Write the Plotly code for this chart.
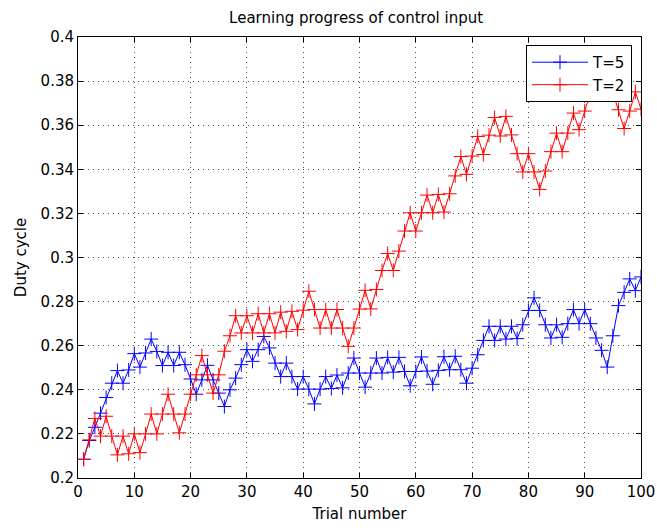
import plotly.graph_objects as go

trials = list(range(1, 101))

duty_T5 = [
    0.2085, 0.2170, 0.2230, 0.2294, 0.2365, 0.2430, 0.2487, 0.2430, 0.2490, 0.2564,
    0.2503, 0.2567, 0.2630, 0.2574, 0.2510, 0.2570, 0.2510, 0.2570, 0.2514, 0.2449,
    0.2380, 0.2445, 0.2511, 0.2445, 0.2385, 0.2324, 0.2400, 0.2453, 0.2514, 0.2582,
    0.2529, 0.2582, 0.2642, 0.2590, 0.2521, 0.2460, 0.2521, 0.2460, 0.2403, 0.2460,
    0.2403, 0.2336, 0.2403, 0.2460, 0.2406, 0.2467, 0.2409, 0.2476, 0.2544, 0.2476,
    0.2412, 0.2476, 0.2544, 0.2476, 0.2547, 0.2480, 0.2547, 0.2483, 0.2418, 0.2483,
    0.2549, 0.2485, 0.2425, 0.2488, 0.2550, 0.2491, 0.2552, 0.2491, 0.2430, 0.2498,
    0.2559, 0.2624, 0.2688, 0.2624, 0.2688, 0.2630, 0.2688, 0.2632, 0.2695, 0.2760,
    0.2817, 0.2760, 0.2695, 0.2635, 0.2695, 0.2638, 0.2700, 0.2764, 0.2700, 0.2764,
    0.2700, 0.2635, 0.2579, 0.2503, 0.2645, 0.2782, 0.2842, 0.2903, 0.2850, 0.2912,
]

duty_T2 = [
    0.2085, 0.2173, 0.2270, 0.2190, 0.2280, 0.2190, 0.2105, 0.2190, 0.2110, 0.2200,
    0.2115, 0.2200, 0.2290, 0.2200, 0.2290, 0.2380, 0.2290, 0.2205, 0.2290, 0.2380,
    0.2468, 0.2555, 0.2468, 0.2385, 0.2468, 0.2575, 0.2645, 0.2736, 0.2658, 0.2736,
    0.2658, 0.2745, 0.2658, 0.2745, 0.2658, 0.2752, 0.2665, 0.2756, 0.2673, 0.2761,
    0.2847, 0.2764, 0.2680, 0.2764, 0.2680, 0.2764, 0.2680, 0.2597, 0.2680, 0.2766,
    0.2851, 0.2767, 0.2855, 0.2941, 0.3018, 0.2941, 0.3029, 0.3120, 0.3203, 0.3120,
    0.3203, 0.3283, 0.3203, 0.3286, 0.3206, 0.3289, 0.3370, 0.3458, 0.3377, 0.3460,
    0.3549, 0.3467, 0.3555, 0.3635, 0.3551, 0.3640, 0.3556, 0.3471, 0.3388, 0.3471,
    0.3388, 0.3309, 0.3392, 0.3480, 0.3564, 0.3480, 0.3564, 0.3655, 0.3580, 0.3664,
    0.3748, 0.3830, 0.3748, 0.3830, 0.3748, 0.3670, 0.3585, 0.3664, 0.3751, 0.3673,
]

series_names = ["T=5", "T=2"]
series_colors = ["#0000ff", "#ff0000"]

x_ticks = list(range(0, 101, 10))
y_ticks = [0.2, 0.22, 0.24, 0.26, 0.28, 0.3, 0.32, 0.34, 0.36, 0.38, 0.4]
y_tick_labels = ["0.2", "0.22", "0.24", "0.26", "0.28", "0.3", "0.32", "0.34", "0.36", "0.38", "0.4"]

FONT = "DejaVu Sans, Liberation Sans, Arial, sans-serif"

fig = go.Figure()
for name, ys, col in zip(series_names, [duty_T5, duty_T2], series_colors):
    fig.add_trace(go.Scatter(
        x=trials, y=ys, name=name, mode="lines+markers",
        line=dict(color=col, width=1),
        marker=dict(symbol="cross-thin", size=10, line=dict(color=col, width=1), color=col),
    ))

axis_common = dict(
    showline=True, linecolor="black", linewidth=1, mirror="ticks",
    ticks="inside", ticklen=5, tickcolor="black", tickwidth=1,
    showgrid=True, gridcolor="rgba(0,0,0,0.7)", gridwidth=1, griddash="1px,4px",
    zeroline=False, automargin=False,
    tickfont=dict(family=FONT, size=15, color="black"),
)

fig.update_xaxes(range=[0, 100], tickvals=x_ticks, **axis_common,
                 title=dict(text="Trial number", font=dict(family=FONT, size=15, color="black"), standoff=8))
fig.update_yaxes(range=[0.2, 0.4], tickvals=y_ticks, ticktext=y_tick_labels, **axis_common,
                 title=dict(text="Duty cycle", font=dict(family=FONT, size=15, color="black"), standoff=10))

fig.update_layout(
    width=657, height=528,
    margin=dict(l=78, r=16, t=37, b=50, autoexpand=False),
    paper_bgcolor="white", plot_bgcolor="white",
    title=dict(text="Learning progress of control input", x=0.542, xanchor="center",
               y=0.966, yanchor="middle", yref="container",
               font=dict(family=FONT, size=15, color="black")),
    legend=dict(x=0.984, y=0.982, xanchor="right", yanchor="top",
                bgcolor="white", bordercolor="black", borderwidth=1,
                font=dict(family=FONT, size=15, color="black"),
                itemwidth=56, tracegroupgap=0),
    showlegend=True,
)

fig.write_html("out.html")
